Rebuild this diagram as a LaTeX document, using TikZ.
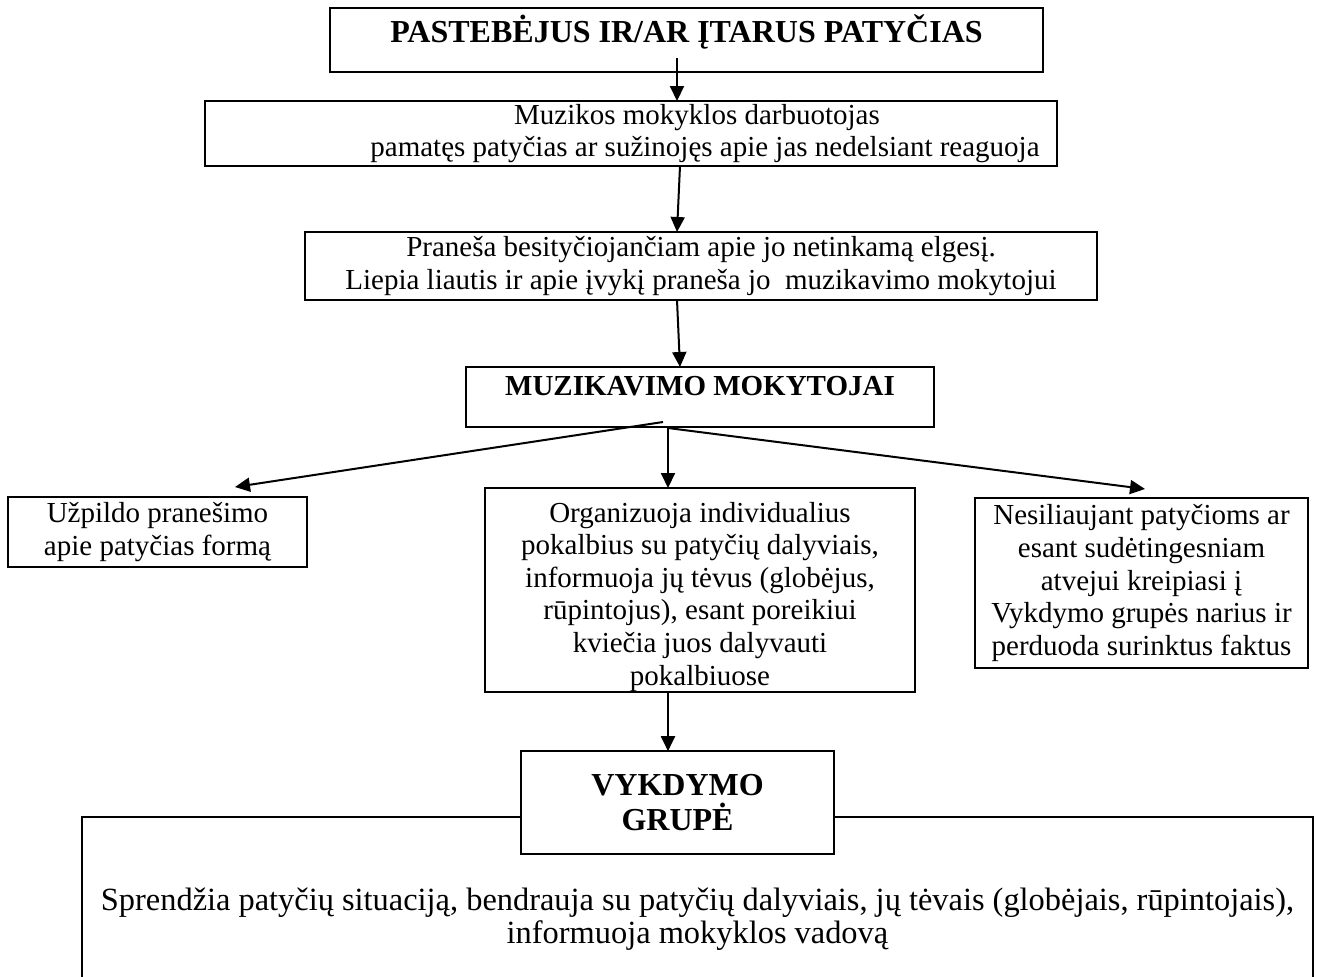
\documentclass[tikz,border=0pt]{standalone}
\usepackage{fontspec}
\setmainfont{Liberation Serif}
\usetikzlibrary{positioning,arrows.meta}

\begin{document}
\begin{tikzpicture}[x=0.5pt,y=-0.5pt,
action/.style={rectangle, draw=black, fill=white, line width=1.2pt, align=center, outer sep=0pt, inner xsep=2pt, inner ysep=0.5pt, font=\fontsize{14.5}{16.3}\selectfont},
stage/.style={rectangle, draw=black, fill=white, line width=1.2pt, align=center, outer sep=0pt, inner xsep=2pt, inner ysep=0pt},
flow/.style={-{Triangle[length=7.5pt,width=7pt]}, line width=1pt}
]
\useasboundingbox (0,0) rectangle (1317,976);

\node[stage, anchor=north, minimum width=356.5pt, text height=17pt, text depth=15pt, font=\bfseries\fontsize{16}{18}\selectfont](notice) at (686.5,8){PASTEBĖJUS IR/AR ĮTARUS PATYČIAS};

% text sits right of the box centre here
\node[action, minimum width=426pt, minimum height=32.5pt](staff)[below=14.5pt of notice, xshift=-27.75pt]{\hspace*{66pt}Muzikos mokyklos darbuotojas\\\hspace*{74pt}pamatęs patyčias ar sužinojęs apie jas nedelsiant reaguoja};
\node[action, minimum width=396pt, minimum height=34pt](tell)[below=33pt of staff, xshift=35pt]{Praneša besityčiojančiam apie jo netinkamą elgesį.\\Liepia liautis ir apie įvykį praneša jo\ \ muzikavimo mokytojui};

\node[stage, minimum width=234pt, text height=14pt, text depth=16pt, font=\bfseries\fontsize{14.5}{16}\selectfont](teachers)[below=33.5pt of tell, xshift=-0.5pt]{MUZIKAVIMO MOKYTOJAI};

\node[action, minimum width=215pt, minimum height=102pt](talks)[below=30.5pt of teachers]{\rule{0pt}{16.5pt}Organizuoja individualius\\pokalbius su patyčių dalyviais,\\informuoja jų tėvus (globėjus,\\rūpintojus), esant poreikiui\\kviečia juos dalyvauti\\pokalbiuose};
\node[action, anchor=north west, minimum width=149.5pt, minimum height=35pt](form) at (8,497){Užpildo pranešimo\\apie patyčias formą};
\node[action, anchor=north west, minimum width=166.5pt, minimum height=85pt](escalate) at (975,498){Nesiliaujant patyčioms ar\\esant sudėtingesniam\\atvejui kreipiasi į\\Vykdymo grupės narius ir\\perduoda surinktus faktus};

% bottom box runs off the page
\node[action, anchor=north west, minimum width=615.5pt, minimum height=102pt, font=\fontsize{16.2}{16.5}\selectfont](solve) at (82,817){Sprendžia patyčių situaciją, bendrauja su patyčių dalyviais, jų tėvais (globėjais, rūpintojais),\\informuoja mokyklos vadovą};
\node[stage, minimum width=156.5pt, minimum height=51.5pt, font=\bfseries\fontsize{16}{17.5}\selectfont](group)[below=29.5pt of talks, xshift=-11.25pt]{VYKDYMO\\GRUPĖ};

\draw[flow] ([xshift=-4.75pt, yshift=7pt]notice.south) -- ([xshift=23pt]staff.north);
\draw[flow] ([xshift=24.5pt]staff.south) -- ([xshift=-12pt]tell.north);
\draw[flow] ([xshift=-12pt]tell.south) -- ([xshift=-10pt]teachers.north);

\draw[flow] ([xshift=-18.5pt, yshift=2.5pt]teachers.south) -- ([xshift=38.75pt, yshift=5pt]form.north);
\draw[flow] ([xshift=-16pt]teachers.south) -- ([xshift=-16pt]talks.north);
\draw[flow] ([xshift=-16pt, yshift=-0.5pt]teachers.south) -- ([xshift=1.75pt, yshift=4.5pt]escalate.north);

\draw[flow] ([xshift=-16pt]talks.south) -- ([xshift=-4.75pt]group.north);
\end{tikzpicture}
\end{document}
